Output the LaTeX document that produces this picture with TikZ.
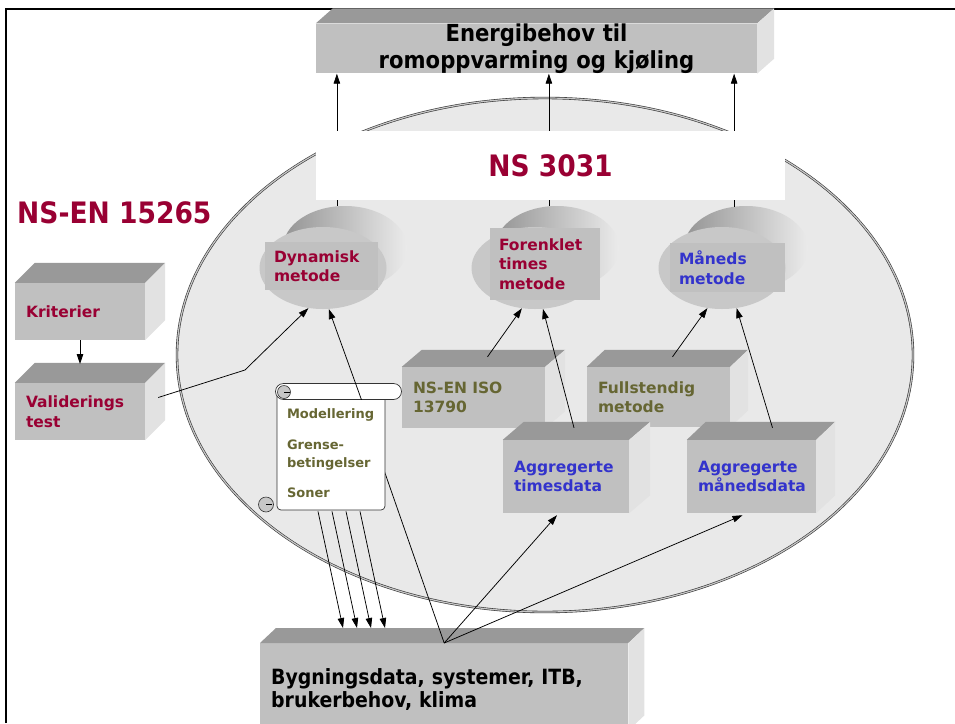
\documentclass[tikz,border=0pt]{standalone}
\usepackage{fontspec}
\setmainfont{DejaVu Sans}
\newfontfamily\condfont{DejaVu Sans Condensed}
\usepackage{tikz}
\usetikzlibrary{arrows.meta,positioning,calc,shapes.geometric}
\definecolor{crimson2}{RGB}{153,0,51}
\definecolor{blue2}{RGB}{51,51,204}
\definecolor{olive2}{RGB}{102,102,51}
\definecolor{facefront}{RGB}{192,192,192}
\definecolor{facetop}{RGB}{153,153,153}
\definecolor{faceside}{RGB}{226,226,226}
\definecolor{discfront}{RGB}{200,200,200}
\definecolor{areagray}{RGB}{233,233,233}
\tikzset{
  cubebox/.style={fill=facefront, inner xsep=11pt, inner ysep=0pt, align=left,
    font=\bfseries\fontsize{15.5}{19.5}\selectfont},
  discback/.style={ellipse, inner sep=0pt, minimum width=124, minimum height=84,
    left color=black!42, right color=black!8},
  discfront/.style={ellipse, inner sep=0pt, fill=discfront, minimum width=127, minimum height=82},
  disctext/.style={fill=facefront, inner xsep=9pt, inner ysep=0pt, align=left,
    font=\bfseries\fontsize{15.5}{19.5}\selectfont},
  area/.style={ellipse, inner sep=0pt, fill=areagray, draw=black!80, double=black!22,
    double distance=1.2pt, line width=0.6pt},
  scrollbody/.style={draw=black!80, fill=white, rounded corners=4pt, line width=0.7pt,
    inner xsep=10pt, align=left, text=olive2, font=\bfseries\fontsize{13}{17.5}\selectfont},
  curl/.style={draw=black!80, fill=black!22, line width=0.6pt},
  flow/.style={-{Triangle[length=10pt,width=6.5pt]}, line width=0.75pt},
  plain/.style={line width=0.75pt}
}
% top and side faces of a box
\newcommand{\boxfaces}[3]{%
  \fill[facetop] (#1.north west) -- ++(#2,-#3) -- ($(#1.north east)+(#2,-#3)$) -- (#1.north east) -- cycle;
  \fill[faceside] (#1.north east) -- ++(#2,-#3) -- ($(#1.south east)+(#2,-#3)$) -- (#1.south east) -- cycle;}
\begin{document}
\begin{tikzpicture}[x=1pt, y=-1pt]
\useasboundingbox (0,0) rectangle (955,723);
\draw[line width=2.5pt] (6,723) -- (6,9) -- (955,9);

% result on top
\node[cubebox, align=center, text width=419pt, minimum height=43,
      font=\condfont\bfseries\fontsize{23.5}{27}\selectfont] (energi) at (536.5,48.5)
      {Energibehov til\\romoppvarming og kjøling};
\boxfaces{energi}{17}{15}

% NS 3031 area
\node[area, minimum width=736, minimum height=514] (area) at (545,355) {};

% the three methods
\node[discback] (dynb) at (345,248) {};
\node[discfront] (dynf) at (323,268) {};
\node[disctext, text width=95pt, minimum height=48, text=crimson2] (dyn) at (321.5,266) {Dynamisk\\metode};
\node[discback] (forb) at (557,248) {};
\node[discfront] (forf) at (535,268) {};
\node[disctext, text width=92pt, minimum height=72, text=crimson2] (for) at (545,264) {Forenklet\\times\\metode};
\node[discback] (manb) at (746,248) {};
\node[discfront] (manf) at (722,268) {};
\node[disctext, text width=97pt, minimum height=49, text=blue2] (man) at (727.5,267.5) {Måneds\\metode};

\draw[flow] (dynb.101) -- (dynb.101 |- energi.south);
\draw[flow] (forb.101) -- (forb.101 |- energi.south);
\draw[flow] (manb.106) -- (manb.106 |- energi.south);

\node[fill=white, minimum width=469, minimum height=69, text=crimson2,
      font=\condfont\bfseries\fontsize{29.5}{32}\selectfont] (ns) at (550.5,165.5) {NS 3031};

\node[anchor=west, inner sep=0pt, text=crimson2,
      font=\condfont\bfseries\fontsize{29.5}{32}\selectfont] (en) at (17,213) {NS-EN 15265};

% validation
\node[cubebox, text width=108pt, minimum height=57, text=crimson2] (krit) at (80,311.5) {Kriterier};
\boxfaces{krit}{20}{20}
\node[cubebox, text width=108pt, minimum height=57, text=crimson2] (valid) at (80,411.5) {Validerings\\test};
\boxfaces{valid}{20}{20}
\draw[flow] (krit.south) -- (valid.north |- 0,364);
\coordinate (knee) at (245,370);
\draw[flow] ($(valid.east)+(13,-14)$) -- (knee) -- (dynf.250);

% inputs inside the area
\node[cubebox, text width=121pt, minimum height=61, text=olive2] (iso) at (473.5,397.5) {NS-EN ISO\\13790};
\boxfaces{iso}{20}{17}
\node[cubebox, text width=121pt, minimum height=60, text=olive2] (full) at (658.5,397) {Fullstendig\\metode};
\boxfaces{full}{18}{17}
\node[cubebox, text width=104pt, minimum height=73, text=blue2] (times) at (566,476.5) {Aggregerte\\timesdata};
\boxfaces{times}{21}{18}
\node[cubebox, text width=107pt, minimum height=73, text=blue2] (maned) at (751.5,476.5) {Aggregerte\\månedsdata};
\boxfaces{maned}{19}{18}

\draw[flow] ($(iso.north)+(14,-10)$) -- (forf.252);
\draw[flow] ($(times.north)+(8,-12)$) -- (forf.281);
\draw[flow] ($(full.north)+(14,-10)$) -- (manf.250);
\draw[flow] ($(maned.north)+(21,-12)$) -- (manf.290);

% building data
\node[cubebox, anchor=north west, text width=346pt, minimum height=87, text=black,
      font=\condfont\bfseries\fontsize{21}{23}\selectfont] (bygg) at (260,643)
      {\\[-2pt]Bygningsdata, systemer, ITB,\\brukerbehov, klima};
\boxfaces{bygg}{16}{15}

% scroll
\coordinate (scrollin) at (370,430);
\draw[plain] (bygg.north) -- (scrollin);
\node[scrollbody, text width=88pt, minimum height=118] (scroll) at (331,451)
     {\\[-3pt]Modellering\\[14pt]Grense-\\betingelser\\[13pt]Soner};
\node[draw=black!80, fill=white, line width=0.7pt, rounded corners=8pt,
      minimum width=126, minimum height=16, inner sep=0pt] (roll) at (338.5,391.5) {};
\draw[curl] (284,392) circle (6.5);
\draw[curl] (266,504.5) circle (7.5);
\draw[line width=0.5pt] (284,392) -- (290,392) (266,504.5) -- (272,504.5);

\draw[flow] ($(roll.south)+(23,0)$) -- (dynf.278);
\foreach \i in {0,...,3}
  \draw[flow] ($(scroll.south)+(-13+14*\i,1)$) -- ($(bygg.north west)+(83+14*\i,-15)$);

\draw[flow] (bygg.north) -- ($(times.south)+(-9,2)$);
\draw[flow] (bygg.north) -- ($(maned.south)+(-9,2)$);
\end{tikzpicture}
\end{document}
